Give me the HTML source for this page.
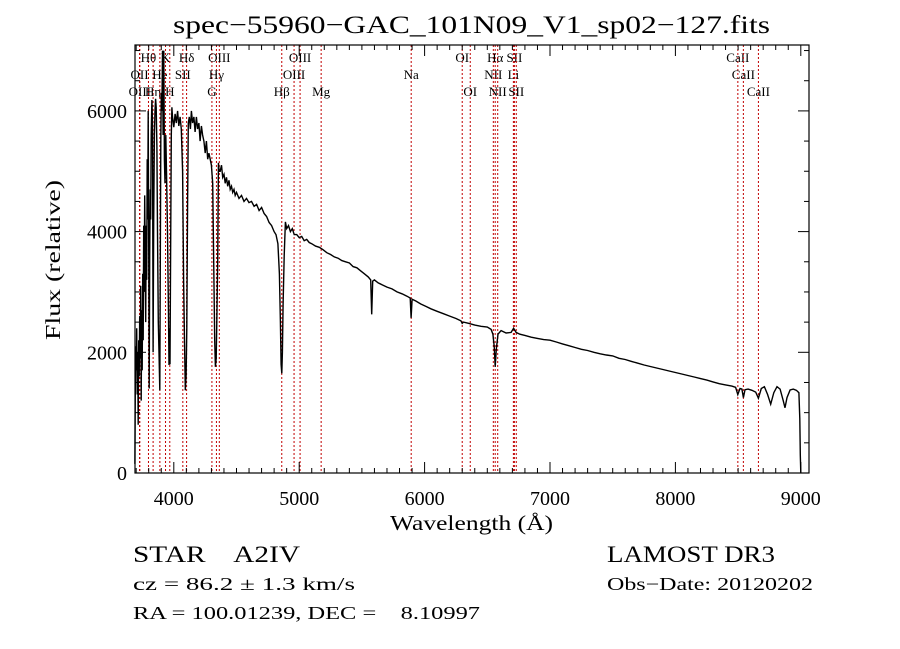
<!DOCTYPE html>
<html><head><meta charset="utf-8"><style>
html,body{margin:0;padding:0;background:#fff;}
svg{display:block;}
text{font-family:"Liberation Serif",serif;fill:#000;}
</style></head><body>
<svg id="chart" width="900" height="649" viewBox="0 0 900 649" xmlns="http://www.w3.org/2000/svg">
<rect width="900" height="649" fill="#fff"/>
<text x="173" y="33" font-size="25" textLength="597" lengthAdjust="spacingAndGlyphs">spec−55960−GAC_101N09_V1_sp02−127.fits</text>
<g id="lines"></g>
<g id="spec"></g>
<g id="axes"></g>
<text x="390" y="530" font-size="21" textLength="163" lengthAdjust="spacingAndGlyphs">Wavelength (Å)</text>
<text transform="translate(60,340) rotate(-90)" font-size="21" textLength="160" lengthAdjust="spacingAndGlyphs">Flux (relative)</text>
<text x="133" y="562" font-size="23" textLength="167" lengthAdjust="spacingAndGlyphs" xml:space="preserve">STAR    A2IV</text>
<text x="607" y="562" font-size="23" textLength="168" lengthAdjust="spacingAndGlyphs">LAMOST DR3</text>
<text x="133" y="590" font-size="18" textLength="222" lengthAdjust="spacingAndGlyphs">cz = 86.2 ± 1.3 km/s</text>
<text x="607" y="590" font-size="18" textLength="206" lengthAdjust="spacingAndGlyphs">Obs−Date: 20120202</text>
<text x="133" y="619" font-size="18" textLength="347" lengthAdjust="spacingAndGlyphs" xml:space="preserve">RA = 100.01239, DEC =    8.10997</text>
</svg>
<script>
const waves = [
3690,3693,3696,3700,3704,3708,3712,3716,3720,3724,
3728,3732,3736,3740,3744,3748,3752,3756,3760,3764,
3768,3772,3776,3780,3784,3788,3792,3796,3800,3804,
3808,3812,3816,3820,3825,3830,3835,3840,3845,3850,
3855,3860,3865,3870,3876,3882,3888,3892,3896,3900,
3905,3910,3915,3920,3925,3930,3936,3942,3950,3958,
3962,3966,3970,3975,3980,3985,3990,4000,4010,4020,
4030,4040,4050,4060,4070,4078,4085,4092,4098,4104,
4110,4116,4124,4132,4140,4150,4160,4170,4180,4190,
4200,4210,4220,4230,4240,4250,4260,4270,4280,4290,
4300,4310,4318,4326,4332,4338,4344,4350,4356,4362,
4370,4380,4390,4400,4410,4420,4430,4440,4450,4460,
4470,4480,4490,4500,4520,4540,4560,4580,4600,4620,
4640,4660,4680,4700,4720,4740,4760,4780,4800,4815,
4830,4842,4850,4856,4861,4866,4872,4880,4890,4900,
4915,4930,4945,4960,4980,5000,5020,5040,5060,5080,
5100,5130,5160,5190,5220,5250,5280,5310,5340,5370,
5400,5430,5460,5490,5520,5550,5570,5578,5586,5600,
5630,5660,5700,5740,5780,5820,5860,5885,5892,5900,
5930,5970,6010,6050,6100,6150,6200,6250,6290,6300,
6310,6350,6400,6450,6500,6530,6545,6555,6563,6572,
6585,6610,6650,6690,6710,6730,6760,6800,6850,6900,
6950,7000,7050,7100,7150,7200,7250,7300,7350,7400,
7450,7500,7550,7600,7650,7700,7750,7800,7850,7900,
7950,8000,8050,8100,8150,8200,8250,8300,8350,8400,
8450,8480,8498,8515,8530,8542,8555,8580,8610,8640,
8662,8685,8710,8735,8760,8785,8810,8835,8860,8874,
8890,8915,8940,8965,8985,8992,8996,9000];
const flux = [
150,1400,2100,1700,2400,1300,2000,800,2200,1600,
2600,1900,3100,1200,2700,1700,3300,2200,4100,3000,
4600,3500,2500,4100,3200,5200,4200,6000,3800,1400,
3600,4700,4200,5600,6180,5800,2000,4200,5600,6000,
6200,6060,5400,4000,2500,2000,1370,3500,5500,6300,
6000,7000,5600,7000,5200,4800,5600,5000,4000,2600,
1790,2400,1800,3900,5600,6060,5900,5730,5950,5800,
6000,5750,5900,5700,5000,3200,2200,1370,1600,2400,
4500,5800,5900,5700,6000,5800,5900,5650,5900,5700,
5800,5500,5750,5600,5500,5300,5500,5200,5300,5200,
5100,4800,3500,2200,1760,1900,2600,3500,5140,5000,
5000,5100,4900,4950,4800,4900,4750,4850,4700,4750,
4650,4700,4600,4650,4550,4600,4500,4550,4480,4500,
4420,4450,4350,4400,4300,4250,4150,4100,4000,3950,
3800,3300,2500,1800,1650,2000,2800,3600,4160,4050,
4100,4000,4050,3950,3950,3900,3920,3850,3870,3820,
3800,3760,3740,3700,3650,3620,3580,3560,3520,3500,
3480,3420,3400,3350,3300,3250,3200,2630,3180,3200,
3150,3120,3080,3050,3000,2970,2930,2900,2570,2880,
2850,2800,2760,2720,2680,2640,2600,2560,2520,2480,
2500,2480,2450,2430,2420,2380,2300,2100,1760,2050,
2300,2360,2320,2330,2400,2330,2300,2280,2250,2230,
2210,2200,2170,2140,2110,2080,2050,2030,2000,1975,
1955,1940,1900,1880,1850,1820,1790,1765,1740,1715,
1690,1665,1640,1615,1590,1565,1540,1510,1480,1460,
1440,1420,1300,1400,1390,1250,1380,1390,1370,1340,
1240,1400,1430,1300,1140,1330,1430,1390,1200,1080,
1250,1375,1390,1370,1330,900,300,0];

const lineWaves = [3727,3729,3798,3835,3889,3934,3968,4072,4102,4304,4340,4363,4861,4959,5007,5175,5893,6300,6364,6548,6563,6583,6708,6716,6731,8498,8542,8662];
const lineLabels = ["OII","OIII","Hθ","Hη","He","K","H","SII","Hδ","G","Hγ","OIII","Hβ","OIII","OIII","Mg","Na","OI","OI","NII","Hα","NII","Li","SII","SII","CaII","CaII","CaII"];
const lineRows = [2,3,1,3,2,1,3,2,1,3,2,1,3,2,1,3,2,1,3,2,1,3,2,1,3,1,2,3];

const xTicks = [4000,5000,6000,7000,8000,9000];
const yTicks = [0,2000,4000,6000];

const NS = "http://www.w3.org/2000/svg";
const L = 135, R = 809, T = 45, B = 473;
function xs(w){ return 173.8 + (w - 4000) * 0.1254; }
function ys(f){ return 473 - f * 0.06035; }
function mk(tag, attrs, parent){ const e = document.createElementNS(NS, tag); for (const k in attrs) e.setAttribute(k, attrs[k]); parent.appendChild(e); return e; }

const gl = document.getElementById('lines');
const rowY = [0,62,79,96];
lineWaves.forEach((w,i)=>{
  const x = xs(w);
  const ln = mk('line',{x1:x,x2:x,y1:T,y2:B,stroke:'#c00000','stroke-width':1,'stroke-dasharray':'2,2'},gl);
  
  
  const t = mk('text',{x:x,y:rowY[lineRows[i]],'font-size':13,'text-anchor':'middle'},gl);
  t.textContent = lineLabels[i];
  
  
});

const gs = document.getElementById('spec');
let d = '';
const n = Math.min(waves.length, flux.length);
for (let i = 0; i < n; i++) { const y = Math.max(T, ys(flux[i])); d += (i ? 'L' : 'M') + xs(waves[i]).toFixed(1) + ',' + y.toFixed(1); }
const p = mk('path',{d:d,fill:'none',stroke:'#000','stroke-width':1.4,'stroke-linejoin':'miter'},gs);



const ga = document.getElementById('axes');
const box = mk('rect',{x:L,y:T,width:R-L,height:B-T,fill:'none',stroke:'#000','stroke-width':1.2},ga);


for (let w = 3700; w <= 9050; w += 100) {
  const x = xs(w); const major = (w % 1000 === 0); const len = major ? 11 : 5;
  mk('line',{x1:x,x2:x,y1:B,y2:B-len,stroke:'#000','stroke-width':1},ga);
  mk('line',{x1:x,x2:x,y1:T,y2:T+len,stroke:'#000','stroke-width':1},ga);
}
for (let f = 0; f <= 7000; f += 500) {
  const y = ys(f); if (y < T) break; const major = (f % 2000 === 0); const len = major ? 11 : 5;
  mk('line',{x1:L,x2:L+len,y1:y,y2:y,stroke:'#000','stroke-width':1},ga);
  mk('line',{x1:R,x2:R-len,y1:y,y2:y,stroke:'#000','stroke-width':1},ga);
}
xTicks.forEach(w=>{
  const t = mk('text',{x:xs(w),y:505,'font-size':20,'text-anchor':'middle'},ga);
  t.textContent = w;
  
  
});
yTicks.forEach(f=>{
  const t = mk('text',{x:127,y:ys(f)+7,'font-size':20,'text-anchor':'end'},ga);
  t.textContent = f;
  
  
});
</script>
</body></html>
